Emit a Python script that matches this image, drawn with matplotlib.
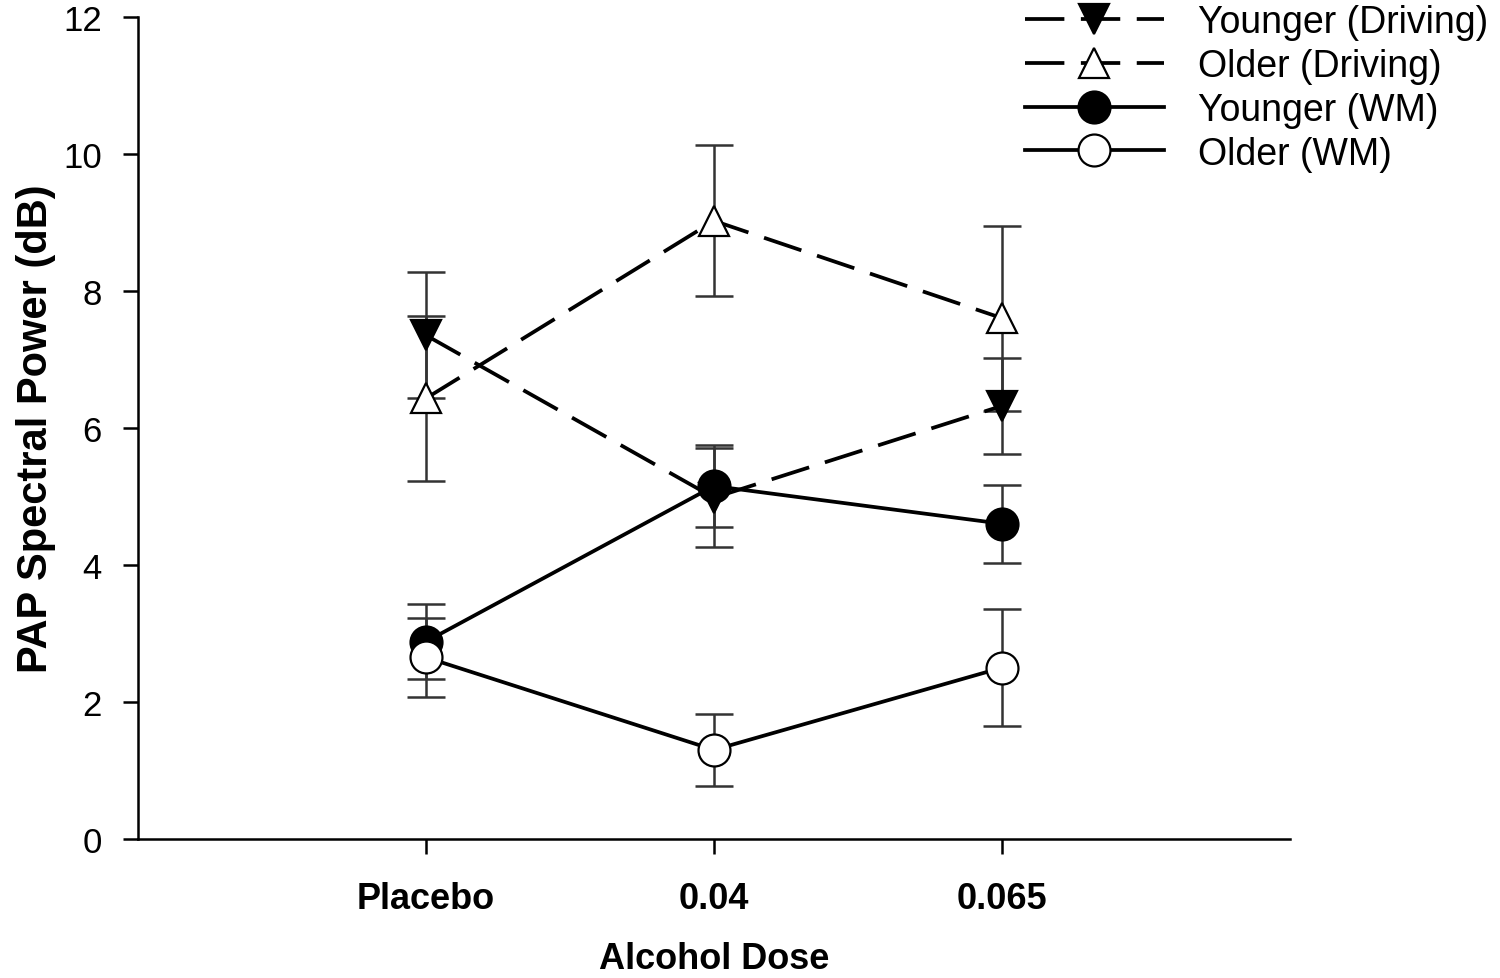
import matplotlib.pyplot as plt

plt.rcParams['font.family'] = ['Liberation Sans', 'DejaVu Sans']

# data
doses = ['Placebo', '0.04', '0.065']
younger_driving = [7.35, 4.98, 6.32]
younger_driving_err = [0.92, 0.72, 0.70]
older_driving = [6.43, 9.02, 7.60]
older_driving_err = [1.20, 1.10, 1.35]
younger_wm = [2.88, 5.15, 4.60]
younger_wm_err = [0.55, 0.60, 0.57]
older_wm = [2.65, 1.30, 2.50]
older_wm_err = [0.58, 0.52, 0.85]

x = [1, 2, 3]

fig = plt.figure(figsize=(15, 9.79), dpi=100)
ax = fig.add_axes([0.092, 0.142, 0.768, 0.84])

dash = (0, (10.5, 4.4))
series = [
    (younger_driving, younger_driving_err, 'v', 'black', dash, 'Younger (Driving)', 22),
    (older_driving, older_driving_err, '^', 'white', dash, 'Older (Driving)', 22),
    (younger_wm, younger_wm_err, 'o', 'black', '-', 'Younger (WM)', 23),
    (older_wm, older_wm_err, 'o', 'white', '-', 'Older (WM)', 23),
]

# error bars underneath
for vals, err, mk, fc, ls, lab, ms in series:
    ax.errorbar(x, vals, yerr=err, fmt='none', ecolor='#333333',
                elinewidth=1.8, capsize=14, capthick=1.8, zorder=1)

for vals, err, mk, fc, ls, lab, ms in series:
    ax.plot(x, vals, linestyle=ls, color='black', linewidth=2.7,
            marker=mk, markersize=ms, markerfacecolor=fc,
            markeredgecolor='black', markeredgewidth=1.6, label=lab, zorder=3)

ax.set_xlim(0, 4)
ax.set_ylim(0, 12)
ax.set_xticks(x)
ax.set_xticklabels(doses, fontsize=26, fontweight='bold')
ax.set_yticks(range(0, 13, 2))
ax.tick_params(axis='y', labelsize=25, length=11, width=1.8, pad=15)
ax.tick_params(axis='x', length=11, width=1.8, pad=19)
for s in ['top', 'right']:
    ax.spines[s].set_visible(False)
for s in ['left', 'bottom']:
    ax.spines[s].set_linewidth(1.8)

ax.set_xlabel('Alcohol Dose', fontsize=26, fontweight='bold', labelpad=18)
ax.set_ylabel('PAP Spectral Power (dB)', fontsize=30, fontweight='bold', labelpad=5)

fig.legend(loc='upper left', bbox_to_anchor=(1025 / 1500, 0.995), frameon=False,
           fontsize=27, handlelength=3.7, numpoints=1, labelspacing=0.21,
           handletextpad=0.9, borderpad=0, borderaxespad=0)

plt.savefig('out.png')
